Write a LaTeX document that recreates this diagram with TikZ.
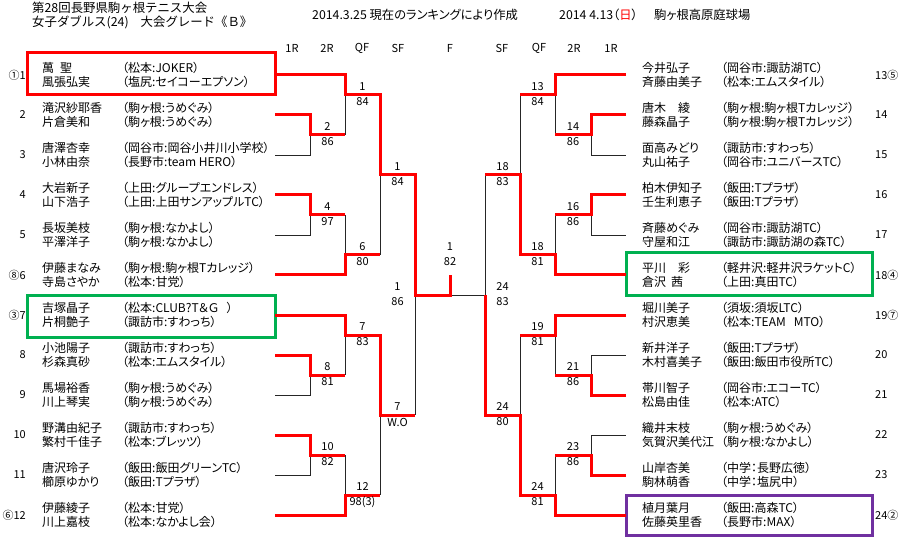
\documentclass[tikz,border=0pt]{standalone}
\usepackage{fontspec}
\setmainfont[RawFeature=+palt]{Noto Sans CJK JP}
\newfontfamily\fwfont{Noto Sans CJK JP}
\definecolor{xgreen}{RGB}{0,176,80}
\definecolor{xpurple}{RGB}{112,48,160}
\definecolor{xred}{RGB}{255,0,0}
\tikzset{
  nm/.style={anchor=west, inner sep=0pt, font=\fontsize{12}{12}\selectfont},
  sd/.style={inner sep=0pt, font=\fontsize{11}{11}\selectfont},
  hd/.style={anchor=west, inner sep=0pt, font=\fontsize{12.3}{12.3}\selectfont},
  ttl/.style={anchor=west, inner sep=0pt, font=\fwfont\fontsize{12.4}{12.4}\selectfont},
  col/.style={inner sep=0pt, font=\fontsize{11}{11}\selectfont},
  sc/.style={inner sep=0pt, font=\fontsize{11}{11}\selectfont},
  win/.style={xred, line width=3pt, line join=miter},
  lose/.style={black!85, line width=0.9pt},
  frame/.style={line width=3pt},
}
\newcommand{\LP}[7]{%
  \node[nm] (ln#1a) at (42,#2-7) {#3};
  \node[nm] (ln#1b) at (42,#2+7) {#4};
  \node[nm] (la#1a) at (122,#2-7) {#5};
  \node[nm] (la#1b) at (122,#2+7) {#6};
  \node[sd, anchor=east] (ls#1) at (26,#2) {#7};}
\newcommand{\RP}[7]{%
  \node[nm] (rn#1a) at (642,#2-7) {#3};
  \node[nm] (rn#1b) at (642,#2+7) {#4};
  \node[nm] (ra#1a) at (721,#2-7) {#5};
  \node[nm] (ra#1b) at (721,#2+7) {#6};
  \node[sd, anchor=west] (rs#1) at (875,#2) {#7};}
\newcommand{\SCN}[5]{%
  \node[sc] (#5a) at (#2,#3-8) {#1};
  \node[sc] (#5b) at (#2,#3+7) {#4};}
\begin{document}
\begin{tikzpicture}[x=1pt,y=-1pt]
\useasboundingbox (0,0) rectangle (899,537);
\fill[white] (0,0) rectangle (899,537);
% header
\node[ttl] (t1) at (32,8) {第28回長野県駒ヶ根テニス大会};
\node[ttl] (t2) at (32,22) {女子ダブルス(24)\hspace{12pt}大会グレード《Ｂ》};
\node[hd] (t3) at (312,15) {2014.3.25 現在のランキングにより作成};
\node[hd] (t4) at (559,15) {2014 4.13（\textcolor{xred}{日}）};
\node[hd] (t5) at (654,15) {駒ヶ根高原庭球場};
% column heads
\node[col] (c1) at (292,48) {1R};
\node[col] (c2) at (327,48) {2R};
\node[col] (c3) at (362,48) {QF};
\node[col] (c4) at (398,48) {SF};
\node[col] (c5) at (450,48) {F};
\node[col] (c6) at (502,48) {SF};
\node[col] (c7) at (539,48) {QF};
\node[col] (c8) at (574,48) {2R};
\node[col] (c9) at (611,48) {1R};
% players left
\LP{1}{75}{萬\hspace{6pt}聖}{風張弘実}{（松本:JOKER）}{（塩尻:セイコーエプソン）}{①1}
\LP{2}{115}{滝沢紗耶香}{片倉美和}{（駒ヶ根:うめぐみ）}{（駒ヶ根:うめぐみ）}{2}
\LP{3}{155}{唐澤杏幸}{小林由奈}{（岡谷市:岡谷小井川小学校）}{（長野市:team HERO）}{3}
\LP{4}{195}{大岩新子}{山下浩子}{（上田:グループエンドレス）}{（上田:上田サンアップルTC）}{4}
\LP{5}{235}{長坂美枝}{平澤洋子}{（駒ヶ根:なかよし）}{（駒ヶ根:なかよし）}{5}
\LP{6}{275}{伊藤まなみ}{寺島さやか}{（駒ヶ根:駒ヶ根Tカレッジ）}{（松本:甘党）}{⑧6}
\LP{7}{315}{吉塚晶子}{片桐艶子}{（松本:CLUB?T＆Ｇ\hspace{8pt}）}{（諏訪市:すわっち）}{③7}
\LP{8}{355}{小池陽子}{杉森真砂}{（諏訪市:すわっち）}{（松本:エムスタイル）}{8}
\LP{9}{395}{馬場裕香}{川上琴実}{（駒ヶ根:うめぐみ）}{（駒ヶ根:うめぐみ）}{9}
\LP{10}{435}{野溝由紀子}{繁村千佳子}{（諏訪市:すわっち）}{（松本:ブレッツ）}{10}
\LP{11}{475}{唐沢玲子}{櫛原ゆかり}{（飯田:飯田グリーンTC）}{（飯田:Tプラザ）}{11}
\LP{12}{515}{伊藤綾子}{川上嘉枝}{（松本:甘党）}{（松本:なかよし会）}{⑥12}
% players right
\RP{13}{75}{今井弘子}{斉藤由美子}{（岡谷市:諏訪湖TC）}{（松本:エムスタイル）}{13⑤}
\RP{14}{115}{唐木\hspace{12pt}綾}{藤森晶子}{（駒ヶ根:駒ヶ根Tカレッジ）}{（駒ヶ根:駒ヶ根Tカレッジ）}{14}
\RP{15}{155}{面高みどり}{丸山祐子}{（諏訪市:すわっち）}{（岡谷市:ユニバースTC）}{15}
\RP{16}{195}{柏木伊知子}{壬生利恵子}{（飯田:Tプラザ）}{（飯田:Tプラザ）}{16}
\RP{17}{235}{斉藤めぐみ}{守屋和江}{（岡谷市:諏訪湖TC）}{（諏訪市:諏訪湖の森TC）}{17}
\RP{18}{275}{平川\hspace{12pt}彩}{倉沢\hspace{5pt}茜}{（軽井沢:軽井沢ラケットC）}{（上田:真田TC）}{18④}
\RP{19}{315}{堀川美子}{村沢恵美}{（須坂:須坂LTC）}{（松本:TEAM\hspace{8pt}MTO）}{19⑦}
\RP{20}{355}{新井洋子}{木村喜美子}{（飯田:Tプラザ）}{（飯田:飯田市役所TC）}{20}
\RP{21}{395}{帯川智子}{松島由佳}{（岡谷市:エコーTC）}{（松本:ATC）}{21}
\RP{22}{435}{織井末枝}{気賀沢美代江}{（駒ヶ根:うめぐみ）}{（駒ヶ根:なかよし）}{22}
\RP{23}{475}{山岸杏美}{駒林萌香}{（中学：長野広徳）}{（中学：塩尻中）}{23}
\RP{24}{515}{植月葉月}{佐藤英里香}{（飯田:高森TC）}{（長野市:MAX）}{24②}
% frames
\draw[frame, xred] (27,53) rectangle (275,95);
\draw[frame, xgreen] (27,295) rectangle (275,337);
\draw[frame, xgreen] (626,253) rectangle (872,295);
\draw[frame, xpurple] (626,495) rectangle (872,535);
% losing / neutral lines
\draw[lose] (310,135) -- (310,155) -- (275,155);
\draw[lose] (345,95) -- (345,135);
\draw[lose] (310,215) -- (310,235) -- (275,235);
\draw[lose] (345,215) -- (345,255);
\draw[lose] (380,175) -- (380,255);
\draw[lose] (345,335) -- (345,375);
\draw[lose] (310,375) -- (310,395) -- (275,395);
\draw[lose] (310,455) -- (310,475) -- (275,475);
\draw[lose] (345,455) -- (345,495);
\draw[lose] (380,415) -- (380,495);
\draw[lose] (415,295) -- (415,415);
\draw[lose] (591,135) -- (591,155) -- (626,155);
\draw[lose] (555,95) -- (555,135);
\draw[lose] (591,215) -- (591,235) -- (626,235);
\draw[lose] (555,215) -- (555,255);
\draw[lose] (520,95) -- (520,175);
\draw[lose] (555,335) -- (555,375);
\draw[lose] (591,375) -- (591,355) -- (626,355);
\draw[lose] (591,455) -- (591,435) -- (626,435);
\draw[lose] (555,455) -- (555,495);
\draw[lose] (520,335) -- (520,415);
\draw[lose] (485,175) -- (485,295) -- (450,295);
% winning lines
\draw[win] (275,75) -- (345,75) -- (345,95) -- (380,95) -- (380,175) -- (415,175) -- (415,295) -- (450,295) -- (450,275);
\draw[win] (275,115) -- (310,115) -- (310,135) -- (345,135);
\draw[win] (275,195) -- (310,195) -- (310,215) -- (345,215);
\draw[win] (275,275) -- (345,275) -- (345,255) -- (380,255);
\draw[win] (275,315) -- (345,315) -- (345,335) -- (380,335) -- (380,415) -- (415,415);
\draw[win] (275,355) -- (310,355) -- (310,375) -- (345,375);
\draw[win] (275,435) -- (310,435) -- (310,455) -- (345,455);
\draw[win] (275,515) -- (345,515) -- (345,495) -- (380,495);
\draw[win] (626,75) -- (555,75) -- (555,95) -- (520,95);
\draw[win] (626,115) -- (591,115) -- (591,135) -- (555,135);
\draw[win] (626,195) -- (591,195) -- (591,215) -- (555,215);
\draw[win] (626,275) -- (555,275) -- (555,255) -- (520,255) -- (520,175) -- (485,175);
\draw[win] (626,315) -- (555,315) -- (555,335) -- (520,335);
\draw[win] (626,395) -- (591,395) -- (591,375) -- (555,375);
\draw[win] (626,475) -- (591,475) -- (591,455) -- (555,455);
\draw[win] (626,515) -- (555,515) -- (555,495) -- (520,495) -- (520,415) -- (485,415) -- (485,295);
% scores left
\SCN{2}{327.5}{135}{86}{k1}
\SCN{4}{327.5}{215}{97}{k2}
\SCN{8}{327.5}{375}{81}{k3}
\SCN{10}{327.5}{455}{82}{k4}
\SCN{1}{362.5}{95}{84}{k5}
\SCN{6}{362.5}{255}{80}{k6}
\SCN{7}{362.5}{335}{83}{k7}
\SCN{12}{362.5}{495}{98(3)}{k8}
\SCN{1}{397.5}{175}{84}{k9}
\SCN{7}{397.5}{415}{W.O}{k10}
\SCN{1}{397.5}{295}{86}{k11}
\SCN{1}{450}{255}{82}{k12}
% scores right
\SCN{24}{502.5}{295}{83}{k13}
\SCN{18}{502.5}{175}{83}{k14}
\SCN{24}{502.5}{415}{80}{k15}
\SCN{13}{537.5}{95}{84}{k16}
\SCN{18}{537.5}{255}{81}{k17}
\SCN{19}{537.5}{335}{81}{k18}
\SCN{24}{537.5}{495}{81}{k19}
\SCN{14}{573}{135}{86}{k20}
\SCN{16}{573}{215}{86}{k21}
\SCN{21}{573}{375}{86}{k22}
\SCN{23}{573}{455}{86}{k23}
\end{tikzpicture}
\end{document}
